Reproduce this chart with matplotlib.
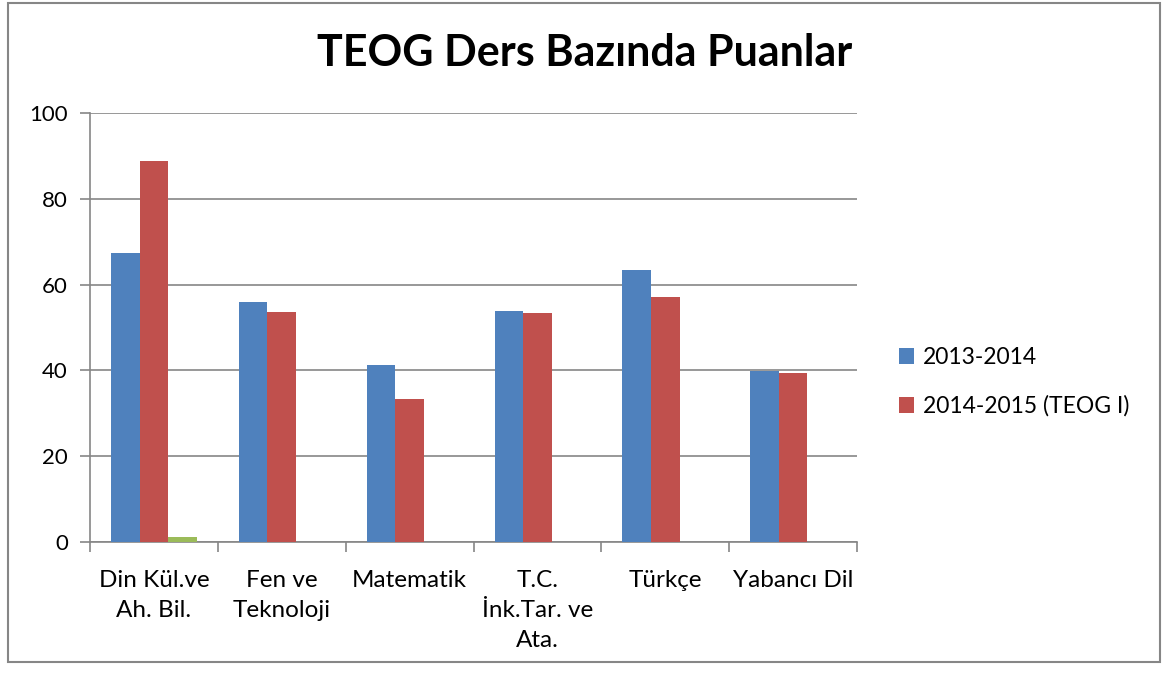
import matplotlib
matplotlib.use("Agg")
import matplotlib.pyplot as plt
import numpy as np
from matplotlib.patches import Rectangle

categories = ["Din Kül.ve\nAh. Bil.", "Fen ve\nTeknoloji", "Matematik",
              "T.C.\nİnk.Tar. ve\nAta.", "Türkçe", "Yabancı Dil"]
scores_2013 = [67.4, 56.0, 41.3, 53.9, 63.4, 39.9]
scores_2014 = [88.8, 53.6, 33.3, 53.4, 57.1, 39.4]
scores_other = [1.2, 0, 0, 0, 0, 0]
series_labels = ["2013-2014", "2014-2015 (TEOG I)"]

plt.rcParams["font.family"] = ["Lato", "DejaVu Sans"]

fig = plt.figure(figsize=(11.64, 6.75), dpi=100)
ax = fig.add_axes([90 / 1164, 1 - 542 / 675, (857 - 90) / 1164, (542 - 113) / 675])

# outer chart border
fig.patches.append(Rectangle((8 / 1164, 1 - 662 / 675), 1152 / 1164, 659 / 675,
                             transform=fig.transFigure, fill=False,
                             edgecolor="#868686", linewidth=1.5))

x = np.arange(len(categories))
w = 0.223
ax.bar(x - w, scores_2013, w, color="#4F81BD", label=series_labels[0], zorder=3)
ax.bar(x, scores_2014, w, color="#C0504D", label=series_labels[1], zorder=3)
ax.bar(x + w, scores_other, w, color="#9BBB59", zorder=3)

ax.set_xlim(-0.5, len(categories) - 0.5)
ax.set_ylim(0, 100)
ax.set_yticks(range(0, 101, 20))
ax.set_yticklabels([str(v) for v in range(0, 101, 20)], fontsize=16)
ax.yaxis.grid(True, color="#868686", linewidth=1.2, zorder=0)

ax.set_xticks(np.arange(-0.5, len(categories), 1.0))
ax.set_xticklabels([])
ax.set_xticks(x, minor=True)
ax.set_xticklabels(categories, minor=True, fontsize=17.5, linespacing=1.55, va="top")
ax.tick_params(axis="x", which="minor", length=0, pad=20)
ax.tick_params(axis="x", which="major", length=7, color="#868686", width=1.2)
ax.tick_params(axis="y", length=7, color="#868686", width=1.2, pad=9)

for side in ("top", "right"):
    ax.spines[side].set_visible(False)
for side in ("left", "bottom"):
    ax.spines[side].set_color("#868686")
    ax.spines[side].set_linewidth(1.2)

fig.text(585 / 1164, 1 - 53 / 675, "TEOG Ders Bazında Puanlar", fontsize=31,
         fontweight="bold", ha="center", va="center")

fig.legend(loc="center left", bbox_to_anchor=(878 / 1164, 1 - 382 / 675),
           frameon=False, fontsize=16.5, handlelength=0.65, handleheight=0.65,
           handletextpad=0.4, labelspacing=1.2)

fig.savefig("out.png", dpi=100)
